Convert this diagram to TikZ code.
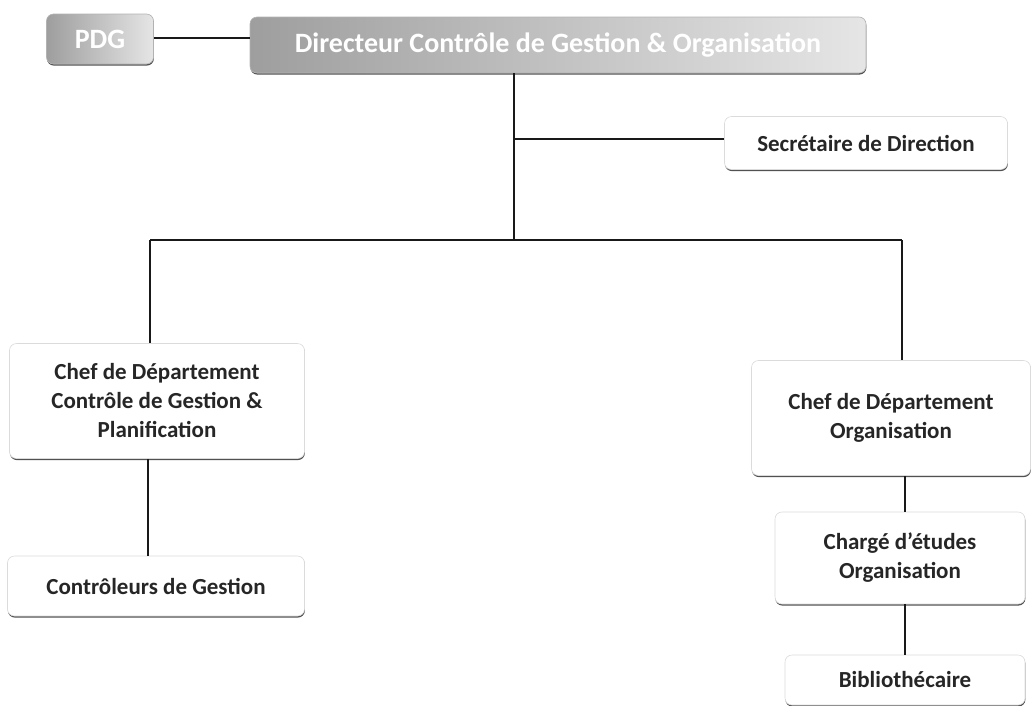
\documentclass[tikz,border=0pt]{standalone}
\usepackage{fontspec}
\setmainfont{Carlito}
\usetikzlibrary{shadows}
\begin{document}
\begin{tikzpicture}[x=1pt,y=-1pt,
  box/.style={rounded corners=7pt, fill=white, draw=black!14, line width=0.6pt,
    align=center, font=\bfseries\fontsize{23}{29}\selectfont, text=black!85,
    inner sep=0pt,
    drop shadow={shadow xshift=0.4pt, shadow yshift=-1.6pt, opacity=0.85, fill=black!80}},
  headbox/.style={box, left color=black!38, right color=black!10, draw=black!30,
    text=white, font=\bfseries\fontsize{28}{32}\selectfont},
  link/.style={line width=1.7pt, black!90}]
\useasboundingbox (0,0) rectangle (1031,705);

% boxes
\node[headbox, minimum width=107pt, minimum height=50pt] (pdg) at (100,39) {PDG};
\node[headbox, minimum width=616pt, minimum height=56pt] (dir) at (558,45)
  {Directeur Contrôle de Gestion \& Organisation};
\node[box, minimum width=283pt, minimum height=53pt] (sec) at (866,143)
  {Secrétaire de Direction};
\node[box, minimum width=295pt, minimum height=115pt] (chefcg) at (157,401)
  {Chef de Département\\Contrôle de Gestion \&\\Planification};
\node[box, minimum width=297pt, minimum height=60pt] (ctrl) at (156,586)
  {Contrôleurs de Gestion};
\node[box, minimum width=279pt, minimum height=115pt] (chefo) at (891,418)
  {Chef de Département\\Organisation};
\node[box, minimum width=250pt, minimum height=92pt] (charge) at (900,558)
  {Chargé d’études\\Organisation};
\node[box, minimum width=240pt, minimum height=50pt] (biblio) at (905,680)
  {Bibliothécaire};

% junction points
\coordinate (hub) at (514,139);
\coordinate (bus) at (514,240);
\coordinate (busL) at (150,240);
\coordinate (busR) at (902,240);
\coordinate (colL) at (148,0);
\coordinate (colR) at (905,0);

% connectors
\draw[link] (pdg.east |- 0,38) -- (dir.west |- 0,38);
\draw[link] (dir.south -| bus) -- (bus);
\draw[link] (hub) -- (hub -| sec.west);
\draw[link] (busL) -- (busR);
\draw[link] (busL) -- (busL |- chefcg.north);
\draw[link] (busR) -- (busR |- chefo.north);
\draw[link] (chefcg.south -| colL) -- (ctrl.north -| colL);
\draw[link] (chefo.south -| colR) -- (charge.north -| colR);
\draw[link] (charge.south -| colR) -- (biblio.north -| colR);
\end{tikzpicture}
\end{document}
